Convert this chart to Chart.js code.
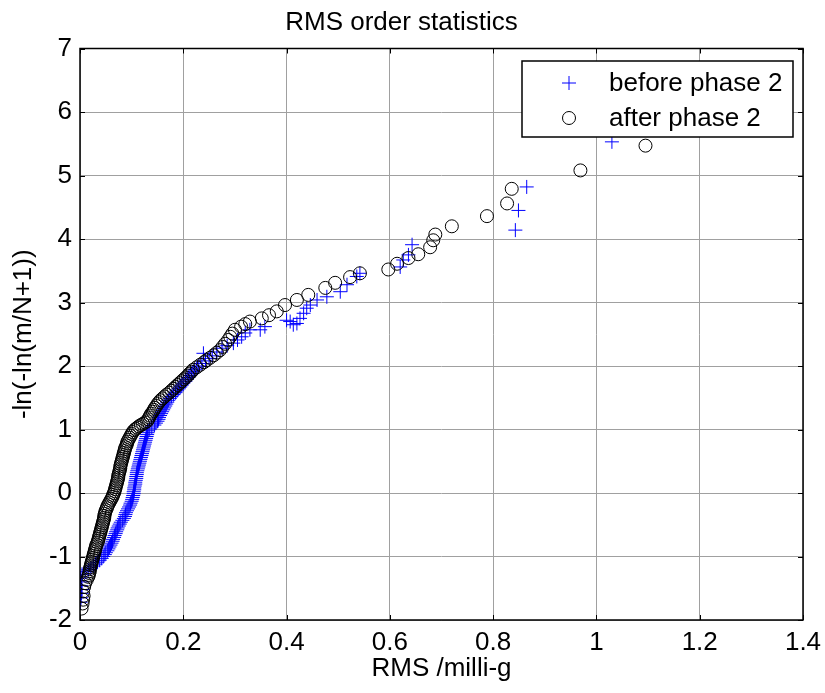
<!DOCTYPE html>
<html>
<head>
<meta charset="utf-8">
<script src="https://cdn.jsdelivr.net/npm/chart.js@4.4.1/dist/chart.umd.min.js"></script>
<style>
  html, body { margin: 0; padding: 0; background: #fff; }
  canvas { display: block; }
</style>
</head>
<body>
<canvas id="c" width="825" height="693"></canvas>
<script>
// ---- Data ----
const chartTitle = 'RMS order statistics';
const xAxisTitle = 'RMS /milli-g';
const yAxisTitle = '-ln(-ln(m/N+1))';
const seriesNames = ['before phase 2', 'after phase 2'];

// [RMS (milli-g), -ln(-ln(m/N+1))]
const beforePoints = [
  [0.001,-1.72],[0.002,-1.65],[0.003,-1.58],[0.004,-1.52],[0.002,-1.46],[0.003,-1.40],[0.001,-1.34],[0.004,-1.28],
  [0.010,-1.24],[0.016,-1.21],[0.021,-1.18],[0.026,-1.15],[0.030,-1.12],[0.034,-1.09],[0.038,-1.06],[0.042,-1.03],
  [0.045,-1.00],[0.048,-0.97],[0.050,-0.94],[0.053,-0.91],[0.055,-0.88],[0.057,-0.85],[0.059,-0.82],[0.061,-0.79],
  [0.063,-0.76],[0.064,-0.73],[0.066,-0.70],[0.067,-0.67],[0.069,-0.64],[0.070,-0.61],[0.072,-0.58],[0.073,-0.55],
  [0.075,-0.52],[0.077,-0.49],[0.079,-0.46],[0.082,-0.43],[0.085,-0.40],[0.087,-0.37],[0.088,-0.34],[0.089,-0.31],
  [0.091,-0.28],[0.093,-0.25],[0.095,-0.22],[0.097,-0.19],[0.098,-0.16],[0.100,-0.13],[0.101,-0.10],[0.102,-0.07],
  [0.103,-0.04],[0.104,-0.01],[0.104,0.02],[0.105,0.05],[0.105,0.08],[0.106,0.11],[0.107,0.14],[0.107,0.17],
  [0.108,0.20],[0.109,0.23],[0.109,0.26],[0.110,0.29],[0.110,0.32],[0.111,0.35],[0.112,0.38],[0.113,0.41],
  [0.114,0.44],[0.115,0.47],[0.116,0.50],[0.117,0.53],[0.118,0.56],[0.119,0.59],[0.120,0.62],[0.121,0.65],
  [0.122,0.68],[0.123,0.71],[0.124,0.74],[0.125,0.77],[0.126,0.80],[0.127,0.83],[0.128,0.86],[0.129,0.89],
  [0.130,0.92],[0.131,0.95],[0.132,0.98],[0.135,1.01],[0.139,1.04],[0.144,1.07],[0.147,1.10],[0.150,1.13],
  [0.152,1.16],[0.153,1.19],[0.155,1.22],[0.157,1.25],[0.159,1.28],[0.161,1.31],[0.163,1.34],[0.165,1.37],
  [0.167,1.40],[0.169,1.43],[0.171,1.46],[0.174,1.49],[0.177,1.52],[0.181,1.55],[0.185,1.58],[0.188,1.61],
  [0.191,1.64],[0.194,1.67],[0.197,1.70],[0.200,1.73],[0.204,1.76],[0.207,1.79],[0.210,1.82],[0.213,1.85],
  [0.216,1.88],[0.219,1.91],[0.222,1.94],[0.226,1.97],[0.230,2.00],[0.236,2.04],[0.243,2.08],[0.250,2.12],
  [0.256,2.16],[0.239,2.20],[0.265,2.22],[0.275,2.28],[0.285,2.32],[0.297,2.36],[0.305,2.41],[0.313,2.46],
  [0.320,2.52],[0.329,2.57],[0.349,2.57],[0.358,2.62],[0.400,2.72],[0.407,2.70],[0.413,2.65],[0.420,2.67],
  [0.426,2.75],[0.433,2.83],[0.439,2.91],[0.446,2.96],[0.459,3.04],[0.478,3.09],[0.504,3.17],[0.517,3.28],
  [0.536,3.41],[0.542,3.46],[0.620,3.56],[0.626,3.67],[0.636,3.75],[0.643,3.91],[0.843,4.14],[0.849,4.45],
  [0.865,4.82],[1.030,5.53]
];

const afterPoints = [
  [0.003,-1.82],[0.005,-1.74],[0.006,-1.68],[0.007,-1.62],[0.006,-1.55],[0.008,-1.48],[0.010,-1.42],[0.013,-1.37],
  [0.016,-1.32],[0.017,-1.29],[0.018,-1.26],[0.019,-1.23],[0.019,-1.20],[0.020,-1.17],[0.021,-1.14],[0.022,-1.11],
  [0.023,-1.08],[0.024,-1.05],[0.025,-1.02],[0.026,-0.99],[0.027,-0.96],[0.028,-0.93],[0.029,-0.90],[0.030,-0.87],
  [0.031,-0.84],[0.032,-0.81],[0.034,-0.78],[0.035,-0.75],[0.036,-0.72],[0.037,-0.69],[0.038,-0.66],[0.039,-0.63],
  [0.040,-0.60],[0.041,-0.57],[0.042,-0.54],[0.043,-0.51],[0.044,-0.48],[0.045,-0.45],[0.046,-0.42],[0.047,-0.39],
  [0.047,-0.36],[0.048,-0.33],[0.049,-0.30],[0.050,-0.27],[0.052,-0.24],[0.053,-0.21],[0.055,-0.18],[0.057,-0.15],
  [0.059,-0.12],[0.061,-0.09],[0.063,-0.06],[0.064,-0.03],[0.066,0.00],[0.067,0.03],[0.068,0.06],[0.069,0.09],
  [0.070,0.12],[0.071,0.15],[0.072,0.18],[0.073,0.21],[0.074,0.24],[0.074,0.27],[0.075,0.30],[0.076,0.33],
  [0.077,0.36],[0.078,0.39],[0.078,0.42],[0.079,0.45],[0.080,0.48],[0.081,0.51],[0.082,0.54],[0.083,0.57],
  [0.084,0.60],[0.085,0.63],[0.086,0.66],[0.087,0.69],[0.088,0.72],[0.090,0.75],[0.091,0.78],[0.092,0.81],
  [0.094,0.84],[0.096,0.87],[0.098,0.90],[0.100,0.93],[0.102,0.96],[0.105,0.99],[0.108,1.01],[0.111,1.03],
  [0.114,1.05],[0.118,1.07],[0.122,1.09],[0.126,1.11],[0.130,1.13],[0.132,1.16],[0.134,1.19],[0.136,1.22],
  [0.138,1.25],[0.141,1.28],[0.143,1.31],[0.145,1.34],[0.148,1.37],[0.150,1.40],[0.153,1.43],[0.156,1.46],
  [0.160,1.49],[0.164,1.52],[0.168,1.55],[0.173,1.58],[0.177,1.61],[0.181,1.64],[0.185,1.67],[0.189,1.70],
  [0.193,1.73],[0.197,1.76],[0.201,1.79],[0.205,1.82],[0.209,1.85],[0.212,1.88],[0.216,1.91],[0.219,1.94],
  [0.226,1.98],[0.233,2.02],[0.240,2.06],[0.245,2.09],[0.252,2.13],[0.259,2.17],[0.265,2.21],[0.271,2.25],
  [0.276,2.30],[0.281,2.35],[0.287,2.41],[0.291,2.46],[0.295,2.51],[0.300,2.57],[0.312,2.62],[0.320,2.66],
  [0.329,2.70],[0.352,2.75],[0.366,2.80],[0.381,2.86],[0.397,2.96],[0.420,3.04],[0.442,3.12],[0.475,3.23],
  [0.494,3.31],[0.523,3.40],[0.542,3.46],[0.597,3.52],[0.614,3.61],[0.636,3.70],[0.655,3.76],[0.678,3.87],
  [0.684,3.98],[0.688,4.07],[0.720,4.20],[0.788,4.36],[0.827,4.56],[0.836,4.79],[0.969,5.08],[1.095,5.47]
];

const xTickValues = [0, 0.2, 0.4, 0.6, 0.8, 1, 1.2, 1.4];
const xTickLabels = ['0', '0.2', '0.4', '0.6', '0.8', '1', '1.2', '1.4'];
const yTickValues = [-2, -1, 0, 1, 2, 3, 4, 5, 6, 7];
const yTickLabels = ['-2', '-1', '0', '1', '2', '3', '4', '5', '6', '7'];

// ---- Build datasets ----
const toXY = pts => pts.map(p => ({ x: p[0], y: p[1] }));
const FONT = '"Liberation Sans", Arial, sans-serif';
const BLUE = '#0000ff';

// Frame, inward tick marks and boxed legend
const matlabDecor = {
  id: 'matlabDecor',
  afterDraw(chart) {
    const ctx = chart.ctx;
    const ca = chart.chartArea;
    const xs = chart.scales.x, ys = chart.scales.y;
    ctx.save();
    ctx.strokeStyle = '#000';
    ctx.lineWidth = 1.5;
    ctx.strokeRect(ca.left, ca.top, ca.right - ca.left, ca.bottom - ca.top);
    ctx.lineWidth = 1;
    const tl = 5;
    ctx.beginPath();
    xTickValues.forEach(v => {
      const p = Math.round(xs.getPixelForValue(v)) + 0.5;
      ctx.moveTo(p, ca.bottom); ctx.lineTo(p, ca.bottom - tl);
      ctx.moveTo(p, ca.top); ctx.lineTo(p, ca.top + tl);
    });
    yTickValues.forEach(v => {
      const p = Math.round(ys.getPixelForValue(v)) + 0.5;
      ctx.moveTo(ca.left, p); ctx.lineTo(ca.left + tl, p);
      ctx.moveTo(ca.right, p); ctx.lineTo(ca.right - tl, p);
    });
    ctx.stroke();

    // legend box
    const bw = 271, bh = 76;
    const bx = ca.right - 10 - bw, by = ca.top + 12.5;
    ctx.fillStyle = '#fff';
    ctx.fillRect(bx, by, bw, bh);
    ctx.lineWidth = 1.5;
    ctx.strokeStyle = '#000';
    ctx.strokeRect(bx, by, bw, bh);
    const mx = bx + 47;
    const r1 = by + 22, r2 = by + 57;
    ctx.lineWidth = 1;
    ctx.strokeStyle = BLUE;
    ctx.beginPath();
    ctx.moveTo(mx - 7, r1); ctx.lineTo(mx + 7, r1);
    ctx.moveTo(mx, r1 - 7); ctx.lineTo(mx, r1 + 7);
    ctx.stroke();
    ctx.strokeStyle = '#000';
    ctx.beginPath();
    ctx.arc(mx, r2, 6.5, 0, Math.PI * 2);
    ctx.stroke();
    ctx.fillStyle = '#000';
    ctx.font = '26px ' + FONT;
    ctx.textBaseline = 'middle';
    ctx.textAlign = 'left';
    ctx.fillText(seriesNames[0], bx + 87, r1 + 1);
    ctx.fillText(seriesNames[1], bx + 87, r2 + 1);
    ctx.restore();
  }
};

new Chart(document.getElementById('c'), {
  type: 'scatter',
  data: {
    datasets: [
      {
        label: seriesNames[0],
        data: toXY(beforePoints),
        pointStyle: 'cross',
        pointRadius: 7,
        borderColor: BLUE,
        backgroundColor: 'transparent',
        borderWidth: 1,
        order: 2
      },
      {
        label: seriesNames[1],
        data: toXY(afterPoints),
        pointStyle: 'circle',
        pointRadius: 6.5,
        borderColor: '#000',
        backgroundColor: 'transparent',
        borderWidth: 1,
        order: 1
      }
    ]
  },
  options: {
    responsive: false,
    animation: false,
    devicePixelRatio: 1,
    layout: { padding: { left: 0, right: 22, top: 0, bottom: 0 } },
    plugins: {
      legend: { display: false },
      tooltip: { enabled: false },
      title: {
        display: true,
        text: chartTitle,
        color: '#000',
        font: { family: FONT, size: 26, weight: 'normal', lineHeight: 1.2 },
        padding: { top: 7.5, bottom: 9.8 }
      }
    },
    scales: {
      x: {
        type: 'linear',
        min: 0, max: 1.4,
        afterBuildTicks: s => { s.ticks = xTickValues.map(v => ({ value: v })); },
        afterFit: s => { s.height = 73; s.paddingRight = 0; s.paddingLeft = 0; },
        ticks: {
          color: '#000',
          font: { family: FONT, size: 26 },
          padding: 7,
          maxRotation: 0,
          autoSkip: false,
          callback: (v, i) => xTickLabels[i]
        },
        grid: { color: '#a0a0a0', lineWidth: 1, drawTicks: false },
        border: { display: false },
        title: {
          display: true,
          text: xAxisTitle,
          color: '#000',
          font: { family: FONT, size: 26, lineHeight: 1.2 },
          padding: { top: 0, bottom: 9 }
        }
      },
      y: {
        type: 'linear',
        min: -2, max: 7,
        afterBuildTicks: s => { s.ticks = yTickValues.map(v => ({ value: v })); },
        afterFit: s => { s.width = 80; },
        ticks: {
          color: '#000',
          font: { family: FONT, size: 26 },
          padding: 8,
          autoSkip: false,
          callback: (v, i) => yTickLabels[i]
        },
        grid: { color: '#a0a0a0', lineWidth: 1, drawTicks: false },
        border: { display: false },
        title: {
          display: true,
          text: yAxisTitle,
          color: '#000',
          font: { family: FONT, size: 26, lineHeight: 1.2 },
          padding: { top: 8, bottom: 0 }
        }
      }
    }
  },
  plugins: [matlabDecor]
});
</script>
</body>
</html>
